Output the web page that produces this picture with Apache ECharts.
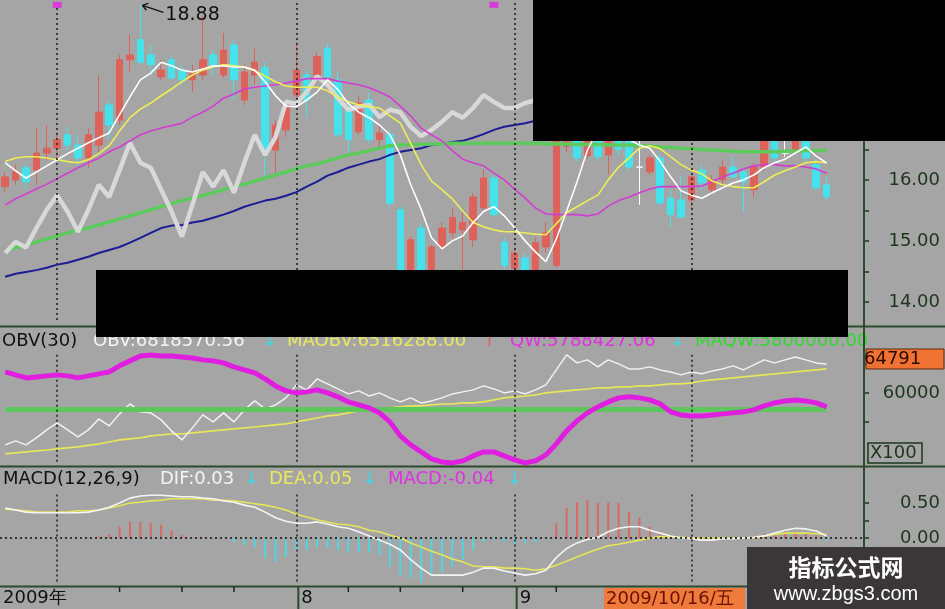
<!DOCTYPE html>
<html><head><meta charset="utf-8">
<script src="https://cdn.jsdelivr.net/npm/echarts@6/dist/echarts.min.js"></script>
<style>html,body{margin:0;padding:0;background:#a5a5a5;overflow:hidden}#c{width:945px;height:609px}</style>
</head><body><div id="c"></div>
<script>
// ---------- DATA ----------
const dates = ['2009/06/24','2009/06/25','2009/06/26','2009/06/29','2009/06/30',
'2009/07/01','2009/07/02','2009/07/03','2009/07/06','2009/07/07','2009/07/08','2009/07/09','2009/07/10','2009/07/13','2009/07/14','2009/07/15','2009/07/16','2009/07/17','2009/07/20','2009/07/21','2009/07/22','2009/07/23','2009/07/24','2009/07/27','2009/07/28','2009/07/29','2009/07/30','2009/07/31',
'2009/08/03','2009/08/04','2009/08/05','2009/08/06','2009/08/07','2009/08/10','2009/08/11','2009/08/12','2009/08/13','2009/08/14','2009/08/17','2009/08/18','2009/08/19','2009/08/20','2009/08/21','2009/08/24','2009/08/25','2009/08/26','2009/08/27','2009/08/28','2009/08/31',
'2009/09/01','2009/09/02','2009/09/03','2009/09/04','2009/09/07','2009/09/08','2009/09/09','2009/09/10','2009/09/11','2009/09/14','2009/09/15','2009/09/16','2009/09/17','2009/09/18','2009/09/21','2009/09/22','2009/09/23','2009/09/24','2009/09/25','2009/09/28','2009/09/29','2009/09/30',
'2009/10/09','2009/10/12','2009/10/13','2009/10/14','2009/10/15','2009/10/16','2009/10/19','2009/10/20','2009/10/21','2009/10/22','2009/10/23','2009/10/26'];

// [open, close, low, high]
const ohlc = [
[15.89,16.05,15.79,16.13],[16.00,16.13,15.92,16.25],[16.20,15.97,15.84,16.25],[16.16,16.44,15.92,16.85],[16.44,16.52,16.33,16.90],
[16.52,16.66,16.33,16.79],[16.74,16.57,16.49,16.87],[16.57,16.36,16.25,16.74],[16.36,16.74,16.20,16.85],[16.57,17.11,16.41,17.72],
[17.23,16.90,16.66,17.31],[16.98,17.97,16.90,18.05],[17.97,18.05,17.77,18.38],[18.30,17.93,17.89,18.88],[18.05,17.89,17.72,18.21],
[17.69,17.80,17.64,17.97],[17.97,17.67,17.64,18.05],[17.80,17.64,17.56,17.89],[17.64,17.75,17.44,17.89],[17.72,17.97,17.64,18.70],
[18.05,17.89,17.72,18.13],[17.72,18.13,17.67,18.41],[18.21,17.64,17.31,18.30],[17.31,17.77,17.23,17.89],[17.72,17.93,17.56,18.16],
[17.84,16.46,16.05,17.93],[16.49,16.90,16.05,16.98],[16.82,17.23,16.70,17.31],[17.39,17.80,17.31,18.26],[17.72,17.31,17.02,17.80],
[17.72,18.02,17.64,18.10],[18.16,17.69,17.64,18.25],[17.64,16.74,16.70,17.77],[17.15,16.66,16.44,17.31],[16.79,17.26,16.74,17.39],
[17.31,16.66,16.61,17.43],[16.66,16.77,16.52,16.90],[16.74,15.62,15.56,16.82],[15.51,14.40,14.30,15.56],[14.30,15.02,14.20,15.07],
[15.21,14.45,14.35,15.30],[14.50,14.90,14.40,14.93],[14.90,15.21,14.85,15.31],[15.13,15.38,15.05,15.54],[15.18,15.30,14.52,15.51],
[15.02,15.72,14.90,15.79],[15.54,16.03,15.51,16.16],[16.03,15.43,15.39,16.08],[14.98,14.60,14.50,15.05],[14.55,14.80,14.45,14.90],
[14.72,14.45,14.35,14.80],[14.50,14.97,14.40,15.05],[14.90,15.13,14.80,15.30],[14.60,16.80,14.55,16.95],[16.55,16.85,16.45,17.00],
[16.85,16.36,16.30,16.95],[16.40,16.75,16.35,16.90],[16.90,16.38,16.30,17.00],[16.41,16.70,16.08,16.90],[16.80,16.50,16.40,16.90],
[16.75,16.21,16.15,16.85],[16.21,16.21,15.59,16.75],[16.13,16.36,16.08,16.41],[16.36,15.62,15.59,16.44],[15.70,15.43,15.23,15.84],
[15.67,15.39,15.38,16.05],[15.67,16.05,15.54,16.11],[16.16,15.95,15.84,16.25],[15.84,16.00,15.75,16.08],[16.00,16.21,15.84,16.33],
[16.21,16.05,16.03,16.38],[16.13,15.97,15.46,16.20],[15.84,16.21,15.72,16.28],[16.21,16.80,16.15,16.95],[16.75,16.36,16.30,16.85],
[16.44,16.44,16.38,16.75],[16.49,16.80,16.45,16.95],[16.80,16.36,16.30,16.90],[16.25,15.87,15.84,16.33],[15.92,15.72,15.67,16.05]];
const dojiIdx = [61, 75];

const ma5 = [16.28,16.15,16.03,16.13,16.23,16.33,16.43,16.52,16.61,16.69,
16.77,17.07,17.36,17.64,17.75,17.93,17.87,17.80,17.77,17.82,
17.87,17.87,17.85,17.85,17.80,17.61,17.38,17.21,17.20,17.31,
17.44,17.64,17.48,17.25,17.11,17.02,16.90,16.74,16.41,15.92,
15.52,15.05,14.87,15.00,15.08,15.30,15.48,15.56,15.41,15.21,
15.00,14.82,14.66,15.03,15.49,15.97,16.49,16.82,16.90,16.79,
16.66,16.57,16.52,16.30,16.05,15.82,15.75,15.70,15.79,15.87,
15.95,16.00,16.08,16.20,16.28,16.34,16.44,16.54,16.39,16.28];
const ma10 = [16.30,16.36,16.38,16.38,16.36,16.33,16.30,16.28,16.33,16.43,
16.56,16.80,17.02,17.16,17.26,17.38,17.49,17.61,17.72,17.80,
17.85,17.89,17.87,17.85,17.79,17.70,17.61,17.54,17.52,17.52,
17.52,17.46,17.36,17.28,17.23,17.20,17.18,17.05,16.93,16.60,
16.25,15.98,15.84,15.69,15.49,15.30,15.23,15.18,15.15,15.15,
15.13,15.11,15.10,15.28,15.46,15.56,15.66,15.75,16.00,16.21,
16.36,16.52,16.56,16.51,16.38,16.25,16.16,16.10,15.98,15.92,
15.89,15.87,15.87,15.97,16.08,16.15,16.21,16.28,16.30,16.28];
const ma20 = [15.59,15.69,15.77,15.85,15.93,16.02,16.11,16.20,16.28,16.36,
16.46,16.54,16.64,16.74,16.80,16.85,16.89,16.93,17.03,17.11,
17.21,17.34,17.41,17.49,17.52,17.54,17.56,17.59,17.62,17.66,
17.66,17.66,17.62,17.59,17.56,17.51,17.44,17.36,17.21,17.05,
16.85,16.74,16.64,16.48,16.34,16.28,16.23,16.11,16.00,15.85,
15.70,15.54,15.44,15.43,15.43,15.43,15.41,15.44,15.57,15.66,
15.72,15.79,15.85,15.89,15.89,15.89,15.89,15.90,15.97,16.05,
16.11,16.18,16.23,16.25,16.25,16.23,16.23,16.21,16.18,16.11];
const ma60 = [14.84,14.89,14.93,14.98,15.03,15.08,15.13,15.18,15.21,15.26,
15.31,15.36,15.41,15.46,15.51,15.56,15.61,15.66,15.70,15.74,
15.79,15.84,15.89,15.93,15.98,16.03,16.08,16.13,16.18,16.23,
16.26,16.31,16.36,16.41,16.44,16.48,16.52,16.56,16.57,16.58,
16.58,16.59,16.59,16.60,16.60,16.60,16.60,16.60,16.60,16.60,
16.60,16.60,16.59,16.59,16.59,16.58,16.58,16.58,16.57,16.57,
16.57,16.56,16.55,16.54,16.53,16.52,16.51,16.50,16.49,16.48,
16.47,16.46,16.46,16.46,16.46,16.47,16.47,16.48,16.48,16.48];
const ma120 = [14.41,14.46,14.49,14.52,14.56,14.61,14.64,14.69,14.74,14.80,
14.85,14.90,14.97,15.05,15.13,15.21,15.25,15.26,15.30,15.33,
15.38,15.43,15.49,15.56,15.61,15.66,15.69,15.74,15.80,15.89,
15.97,16.07,16.13,16.20,16.25,16.30,16.34,16.41,16.46,16.49,
16.52,16.57,16.59,16.62,16.64,16.69,16.75,16.82,16.87,16.90,
16.93,16.97,17.00,17.02,17.05,17.07,17.10,17.12,17.14,17.16,
17.18,17.20,17.21,17.22,17.23,17.24,17.25,17.26,17.27,17.28,
17.29,17.30,17.31,17.32,17.33,17.34,17.35,17.36,17.37,17.38];
const grayLine = [14.80,14.98,14.89,15.21,15.51,15.75,15.48,15.15,15.51,15.92,
15.72,16.16,16.61,16.28,16.20,15.84,15.48,15.07,15.59,16.13,
15.89,16.16,15.79,16.28,16.74,16.41,16.70,17.28,17.25,17.44,
17.70,17.56,17.34,17.15,17.20,17.23,17.03,17.15,17.11,16.87,
16.72,16.82,16.95,17.11,17.02,17.18,17.39,17.28,17.18,17.18,
17.26,17.31,17.40,17.55,17.70,17.60,17.80,17.95,17.85,18.00,
17.90,17.75,17.85,17.70,17.60,17.50,17.65,17.55,17.45,17.60,
17.70,17.55,17.65,17.80,17.90,17.75,17.85,17.70,17.60,17.50];
const priceLabels = [14, 15, 16, 17, 18];
const priceTicks = [14, 14.5, 15, 15.5, 16, 16.5, 17, 17.5, 18, 18.5];

const obv = [52790,53340,52790,53760,54870,55840,54870,53900,54870,56390,
55420,57090,58470,57370,57230,56260,54730,53480,55150,56950,
55980,57230,55980,57640,58890,57780,58340,59310,61110,60420,
61940,61250,60560,59860,60280,59580,60000,59310,58750,59310,
58610,58890,59310,59860,60140,60420,60970,60560,60000,60280,
59860,60420,61110,63190,65270,64160,64580,63610,64580,64020,
63330,63330,63610,63190,62910,62500,62910,62640,63050,63330,
63750,63190,63880,64580,64160,64580,64990,64580,64160,64020];
const maobv = [51540,51680,51820,51960,52090,52230,52370,52510,52720,52930,
53200,53480,53620,53760,54040,54180,54310,54310,54450,54590,
54730,54870,55010,55150,55280,55420,55560,55700,55980,56260,
56530,56810,56950,57230,57500,57640,57780,57920,58060,58200,
58200,58340,58470,58470,58610,58610,58750,59030,59310,59450,
59580,59720,60000,60140,60280,60420,60550,60690,60690,60830,
60830,60970,60970,61110,61250,61250,61390,61660,61800,61940,
62080,62220,62360,62500,62640,62770,62910,63050,63190,63330];
const qw = [62910,62500,62080,62220,62360,62500,62360,62080,62360,62640,
62910,63750,64440,65130,65270,65130,65130,64990,64850,64580,
64440,64160,63610,63190,62770,61940,60970,60280,60000,60140,
60420,60000,59450,58750,58340,57920,57230,55980,54040,52790,
51820,50850,50430,50290,50570,51260,51820,51820,51260,50710,
50290,50570,51400,52930,54730,56120,57230,58060,58750,59310,
59450,59310,59030,58470,57370,56950,56810,56810,56950,57090,
57230,57370,57640,58200,58610,58890,59030,58890,58610,58060];
const qwLevel = 57780;
const obvLabels = [60000];
const obvTicks = [56000, 60000, 64000];

const dif = [0.43,0.40,0.37,0.36,0.36,0.36,0.36,0.36,0.37,0.40,
0.44,0.50,0.57,0.60,0.61,0.61,0.60,0.59,0.59,0.57,
0.56,0.53,0.51,0.47,0.44,0.37,0.29,0.24,0.21,0.21,
0.23,0.20,0.16,0.14,0.09,0.03,-0.03,-0.09,-0.17,-0.31,
-0.43,-0.53,-0.53,-0.53,-0.53,-0.49,-0.43,-0.43,-0.47,-0.50,
-0.53,-0.51,-0.46,-0.28,-0.15,-0.07,-0.02,0.01,0.09,0.14,
0.16,0.16,0.11,0.07,0.03,0.00,-0.01,-0.03,-0.03,-0.01,
-0.01,0.00,0.01,0.03,0.07,0.11,0.14,0.13,0.10,0.03];
const dea = [0.41,0.40,0.39,0.37,0.37,0.37,0.37,0.39,0.39,0.40,
0.43,0.46,0.50,0.51,0.53,0.54,0.56,0.56,0.56,0.56,
0.54,0.54,0.53,0.51,0.49,0.47,0.44,0.40,0.34,0.30,
0.26,0.23,0.20,0.19,0.16,0.11,0.09,0.04,0.00,-0.07,
-0.13,-0.19,-0.24,-0.30,-0.34,-0.40,-0.41,-0.41,-0.43,-0.43,
-0.44,-0.46,-0.44,-0.39,-0.33,-0.27,-0.21,-0.16,-0.11,-0.09,
-0.06,-0.03,0.00,0.02,0.01,0.01,0.00,0.00,0.00,0.00,
0.00,0.00,0.00,0.03,0.05,0.07,0.07,0.07,0.06,0.05];
const macdHist = [0.01,-0.01,-0.02,-0.01,0,0,0,-0.01,0.01,0.02,
0.05,0.16,0.23,0.23,0.21,0.19,0.11,0.04,0.01,0.01,
0,-0.01,-0.06,-0.10,-0.13,-0.29,-0.34,-0.27,-0.17,-0.17,
-0.13,-0.14,-0.17,-0.21,-0.20,-0.20,-0.24,-0.41,-0.53,-0.57,
-0.63,-0.53,-0.49,-0.41,-0.31,-0.17,-0.06,-0.03,-0.05,-0.08,
-0.07,-0.06,-0.02,0.21,0.43,0.51,0.54,0.50,0.51,0.50,
0.37,0.29,0.16,0.09,0.03,-0.03,-0.02,-0.01,-0.01,-0.01,
0,0,0.01,0.06,0.08,0.09,0.09,0.07,0.04,-0.04];
const macdLabels = [0, 0.5];
const macdTicks = [0, 0.25, 0.5];

const dottedIdx = [5, 28, 49, 66];
const markerIdx = [5, 47];
const highIdx = 13, highText = '18.88';
const monthMarks = [{idx: 28, text: '8'}, {idx: 49, text: '9'}];
const weekTicks = [11, 17, 22, 33, 38, 44, 53];
const firstLabel = '2009年';
const cursorLabel = '2009/10/16/五';
const obvBoxValue = '64791';

// ---------- STYLE ----------
const BG = '#a5a5a5', UP = '#dc625a', DOWN = '#46e2ec', AX = '#1d351d', SEP = '#2c4a2c';
const F = '"DejaVu Sans", sans-serif';
const chart = echarts.init(document.getElementById('c'), null, {renderer: 'canvas'});

const candleData = ohlc.map((v, i) => dojiIdx.includes(i)
  ? {value: v, itemStyle: {color: '#ffffff', color0: '#ffffff', borderColor: '#ffffff', borderColor0: '#ffffff'}}
  : v);

const dotStyle = {color: '#333333', type: [2, 3], width: 1.8};
function vSeg(top, bottom) {
  return dottedIdx.map(i => [{coord: [dates[i], top]}, {coord: [dates[i], bottom]}]);
}
function line(name, data, g, color, width, z) {
  return {name, type: 'line', xAxisIndex: g, yAxisIndex: g, data, symbol: 'none', z: z || 3,
    lineStyle: {color, width}, itemStyle: {color}, silent: true};
}
function yax(g, min, max, labels, ticks, fmt) {
  return {type: 'value', gridIndex: g, position: 'right', min, max,
    splitLine: {show: false}, axisLine: {show: false},
    axisTick: {show: true, length: 6, inside: false, lineStyle: {color: AX, width: 1.5}, customValues: ticks},
    axisLabel: {show: true, margin: 77, align: 'right', color: AX, fontFamily: 'DejaVu Sans', fontSize: 18,
      customValues: labels, formatter: fmt}};
}

const option = {
  backgroundColor: BG,
  animation: false,
  grid: [
    {left: 0, top: 0, width: 863, height: 325},
    {left: 0, top: 328, width: 863, height: 137},
    {left: 0, top: 468, width: 863, height: 117}
  ],
  xAxis: [0, 1, 2].map(g => ({type: 'category', gridIndex: g, data: dates, boundaryGap: true,
    axisLine: {show: false}, axisTick: {show: false}, axisLabel: {show: false}, splitLine: {show: false}})),
  yAxis: [
    yax(0, 13.62, 18.95, priceLabels, priceTicks, v => v.toFixed(2)),
    yax(1, 50000, 69000, obvLabels, obvTicks, v => String(v)),
    yax(2, -0.671, 1.0, macdLabels, macdTicks, v => v.toFixed(2))
  ],
  series: [
    {type: 'candlestick', xAxisIndex: 0, yAxisIndex: 0, data: candleData, barWidth: 7, z: 2,
      itemStyle: {color: UP, color0: DOWN, borderColor: UP, borderColor0: DOWN, borderWidth: 1},
      markLine: {silent: true, symbol: ['none', 'none'], label: {show: false}, lineStyle: dotStyle,
        data: vSeg(18.9, 13.7)},
      markPoint: {silent: true, symbol: 'rect', symbolSize: [9, 6], itemStyle: {color: '#d83cd8'}, label: {show: false},
        data: markerIdx.map(i => ({coord: [dates[i], 18.87]}))}
    },
    line('MA120', ma120, 0, '#1c1c96', 2),
    line('MA60', ma60, 0, '#5ccb5c', 3.5),
    line('GRAY', grayLine, 0, '#d8d8d8', 4.5),
    line('MA20', ma20, 0, '#d23ed2', 1.6),
    line('MA10', ma10, 0, '#eeee55', 1.6),
    line('MA5', ma5, 0, '#ffffff', 1.6),
    // OBV panel
    Object.assign(line('MAOBV', maobv, 1, '#e6e65a', 1.6), {
      markLine: {silent: true, symbol: ['none', 'none'], label: {show: false},
        data: [
          [{coord: [dates[0], qwLevel], lineStyle: {color: '#5cc85c', width: 5, type: 'solid'}},
           {coord: [dates[79], qwLevel]}]
        ].concat(vSeg(65300, 50400).map(s => [Object.assign({lineStyle: dotStyle}, s[0]), s[1]]))
      }}),
    line('OBV', obv, 1, '#f2f2f2', 1.5, 4),
    line('QW', qw, 1, '#e01ee0', 5, 5),
    // MACD panel
    {type: 'bar', xAxisIndex: 2, yAxisIndex: 2, barWidth: 2, silent: true, z: 2,
      data: macdHist.map(v => ({value: v, itemStyle: {color: v >= 0 ? '#d86a62' : '#4fd6e2'}})),
      markLine: {silent: true, symbol: ['none', 'none'], label: {show: false}, lineStyle: dotStyle,
        data: [{yAxis: 0}].concat(vSeg(0.62, -0.63))}},
    line('DEA', dea, 2, '#e6e65a', 1.6),
    line('DIF', dif, 2, '#f4f4f4', 1.6, 4)
  ]
};
chart.setOption(option);

// ---------- ANNOTATIONS ----------
const P = (g, i, v) => chart.convertToPixel({xAxisIndex: g, yAxisIndex: g}, [i, v]);
function txt(x, y, text, fill, font, extra) {
  return Object.assign({type: 'text', x, y, z: 50, silent: true,
    style: {text, fill, font: font || ('18px ' + F), verticalAlign: 'middle', align: 'left'}}, extra || {});
}
function ln(x1, y1, x2, y2, stroke, w, z) {
  return {type: 'line', z: z || 60, silent: true, shape: {x1, y1, x2, y2}, style: {stroke, lineWidth: w}};
}
const G = [];
// panel separators
G.push(ln(0, 326.5, 945, 326.5, SEP, 2));
G.push(ln(0, 466.5, 945, 466.5, SEP, 2));
G.push(ln(0, 586.5, 945, 586.5, SEP, 2));
G.push(ln(864, 0, 864, 587, SEP, 2));

// 18.88 arrow
const hp = P(0, highIdx, 18.88);
G.push(ln(hp[0] + 2, hp[1] + 1, hp[0] + 23, hp[1] + 8, '#111', 1.3));
G.push(ln(hp[0] + 2, hp[1] + 1, hp[0] + 8, hp[1] - 1, '#111', 1.3));
G.push(ln(hp[0] + 2, hp[1] + 1, hp[0] + 6, hp[1] + 6, '#111', 1.3));
G.push(txt(hp[0] + 25, hp[1] + 11, highText, '#111', '19px ' + F));

// OBV legend row
const yo = 341;
G.push(txt(2, yo, 'OBV(30)', '#111'));
G.push(txt(93, yo, 'OBV:6818570.56', '#f4f4f4'));
G.push(txt(262, yo, '↓', '#3fd8e6'));
G.push(txt(287, yo, 'MAOBV:6516288.00', '#e8e860'));
G.push(txt(482, yo, '↑', '#e06050'));
G.push(txt(510, yo, 'QW:5788427.06', '#e030e0'));
G.push(txt(670, yo, '↓', '#3fd8e6'));
G.push(txt(695, yo, 'MAQW:5800000.00', '#30d830'));

// MACD legend row
const ym = 479;
G.push(txt(3, ym, 'MACD(12,26,9)', '#111'));
G.push(txt(160, ym, 'DIF:0.03', '#f4f4f4'));
G.push(txt(244, ym, '↓', '#3fd8e6'));
G.push(txt(269, ym, 'DEA:0.05', '#e8e860'));
G.push(txt(362, ym, '↓', '#3fd8e6'));
G.push(txt(388, ym, 'MACD:-0.04', '#e030e0'));
G.push(txt(507, ym, '↓', '#3fd8e6'));

// right panel boxes
G.push({type: 'rect', z: 55, silent: true, shape: {x: 866, y: 349, width: 78, height: 20}, style: {fill: '#f07232', stroke: '#5a2a10', lineWidth: 1}});
G.push(txt(864, 359, obvBoxValue, '#2a0800', '18px ' + F, {z: 56}));
G.push({type: 'rect', z: 55, silent: true, shape: {x: 868, y: 443, width: 54, height: 20}, style: {fill: 'none', stroke: '#1d351d', lineWidth: 1.5}});
G.push(txt(870, 453, 'X100', '#1d351d', '18px ' + F, {z: 56}));

// bottom time axis
G.push(txt(3, 598, firstLabel, '#111', '18px ' + F));
monthMarks.forEach(m => {
  const x = P(2, m.idx, 0)[0] + 2;
  G.push(ln(x, 587, x, 609, SEP, 2));
  G.push(txt(x + 3, 598, m.text, '#111'));
});
weekTicks.forEach(i => {
  const x = P(2, i, 0)[0];
  G.push(ln(x, 587, x, 592, '#222', 1.5));
});
G.push({type: 'rect', z: 55, silent: true, shape: {x: 604, y: 588, width: 141, height: 21}, style: {fill: '#f07a3c'}});
G.push(txt(606, 599, cursorLabel, '#6a1200', '18px ' + F, {z: 56}));

// black masks
G.push({type: 'rect', z: 100, silent: true, shape: {x: 533, y: 0, width: 412, height: 141}, style: {fill: '#000'}});
G.push({type: 'rect', z: 100, silent: true, shape: {x: 96, y: 270, width: 752, height: 67}, style: {fill: '#000'}});

// watermark
G.push({type: 'rect', z: 100, silent: true, shape: {x: 747, y: 547, width: 198, height: 62}, style: {fill: '#3b3637'}});
G.push({type: 'text', z: 101, silent: true, x: 846, y: 567, style: {text: '指标公式网', fill: '#ffffff', font: 'bold 23px "Noto Sans CJK SC"', align: 'center', verticalAlign: 'middle'}});
G.push({type: 'text', z: 101, silent: true, x: 846, y: 594, style: {text: 'www.zbgs3.com', fill: '#ffffff', font: '20px "Liberation Sans"', align: 'center', verticalAlign: 'middle'}});

chart.setOption({graphic: G});
</script>
</body></html>
